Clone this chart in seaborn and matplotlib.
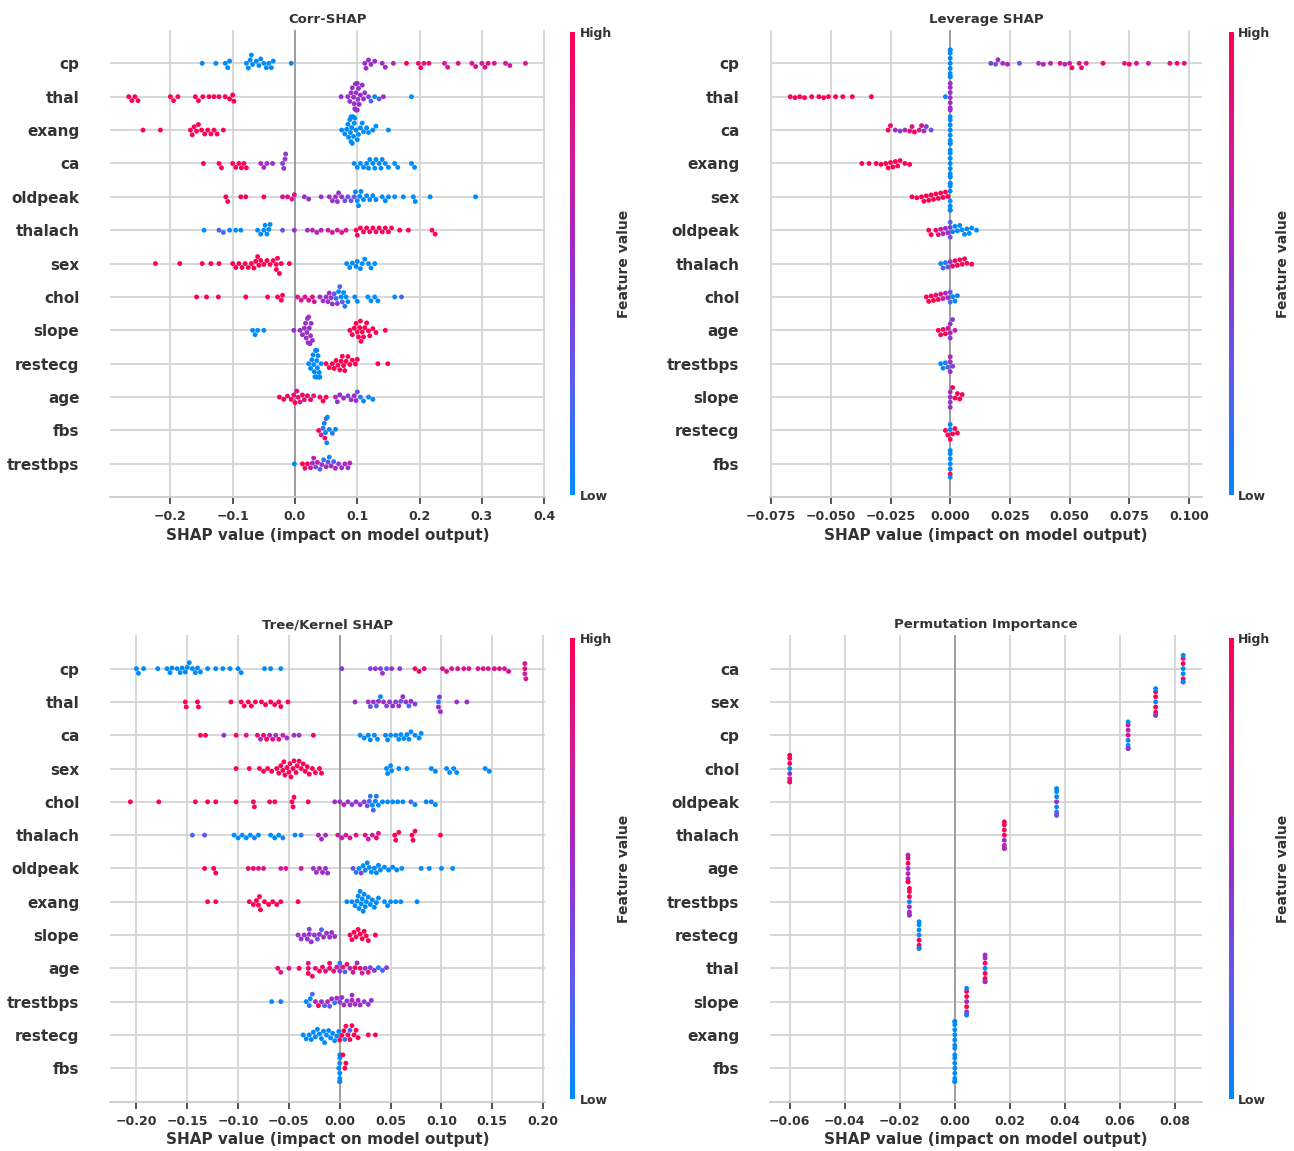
import warnings

import matplotlib
matplotlib.use("Agg")
import matplotlib.pyplot as plt
import seaborn as sns
import pandas as pd
from matplotlib.colors import LinearSegmentedColormap, Normalize
from matplotlib.cm import ScalarMappable

warnings.simplefilter("ignore")

# each row: (shap value, feature value scaled 0=low .. 1=high)

# ---------------- Corr-SHAP ----------------
corr_order = ["cp", "thal", "exang", "ca", "oldpeak", "thalach", "sex",
              "chol", "slope", "restecg", "age", "fbs", "trestbps"]
corr_cp = [(-0.149, 0), (-0.127, 0), (-0.112, 0), (-0.108, 0), (-0.105, 0), (-0.078, 0), (-0.075, 0),
           (-0.072, 0), (-0.07, 0), (-0.068, 0), (-0.062, 0), (-0.058, 0), (-0.055, 0), (-0.05, 0),
           (-0.046, 0), (-0.042, 0), (-0.038, 0), (-0.035, 0), (-0.006, 0),
           (0.112, 0.5), (0.114, 0.5), (0.118, 0.5), (0.122, 0.5), (0.128, 0.5), (0.14, 0.5),
           (0.145, 0.55), (0.158, 0.6), (0.179, 1), (0.198, 0.9), (0.202, 0.9), (0.207, 0.85),
           (0.215, 0.9), (0.24, 0.75), (0.245, 0.75), (0.262, 0.8), (0.284, 0.8), (0.29, 0.8),
           (0.3, 0.7), (0.305, 0.8), (0.31, 0.9), (0.32, 0.8), (0.338, 0.75), (0.345, 0.75), (0.37, 0.8)]
corr_thal = [(-0.267, 1), (-0.262, 1), (-0.257, 1), (-0.252, 1), (-0.2, 1), (-0.195, 1), (-0.188, 1),
             (-0.16, 1), (-0.155, 1), (-0.148, 1), (-0.138, 1), (-0.13, 1), (-0.122, 1), (-0.112, 1),
             (-0.105, 1), (-0.1, 1), (-0.098, 1),
             (0.074, 0.5), (0.085, 0.5), (0.088, 0.5), (0.09, 0.5), (0.092, 0.5), (0.094, 0.5),
             (0.095, 0.5), (0.096, 0.5), (0.097, 0.5), (0.098, 0.5), (0.098, 0.5), (0.099, 0.5),
             (0.1, 0.5), (0.1, 0.5), (0.101, 0.5), (0.102, 0.5), (0.103, 0.5), (0.105, 0.5),
             (0.108, 0.5), (0.11, 0.5), (0.112, 0.5), (0.118, 0.4), (0.122, 0.2), (0.128, 0),
             (0.135, 0.3), (0.142, 0.5), (0.187, 0)]
corr_exang = [(-0.244, 1), (-0.216, 1), (-0.168, 1), (-0.165, 1), (-0.162, 1), (-0.158, 1), (-0.155, 1),
              (-0.15, 1), (-0.145, 1), (-0.14, 1), (-0.135, 1), (-0.13, 1), (-0.125, 1), (-0.115, 1),
              (0.075, 0), (0.08, 0), (0.083, 0), (0.085, 0), (0.086, 0), (0.088, 0), (0.089, 0),
              (0.09, 0), (0.09, 0), (0.091, 0), (0.092, 0), (0.093, 0), (0.094, 0), (0.095, 0),
              (0.096, 0), (0.098, 0), (0.1, 0), (0.102, 0), (0.105, 0), (0.108, 0), (0.11, 0),
              (0.115, 0), (0.118, 0), (0.125, 0), (0.13, 0), (0.15, 0)]
corr_ca = [(-0.147, 1), (-0.122, 1), (-0.118, 1), (-0.1, 1), (-0.095, 1), (-0.09, 1), (-0.086, 1),
           (-0.082, 1), (-0.078, 1), (-0.055, 0.6), (-0.05, 0.55), (-0.045, 0.5), (-0.036, 0.5),
           (-0.02, 0.45), (-0.018, 0.45), (-0.016, 0.45), (-0.015, 0.45),
           (0.095, 0), (0.1, 0), (0.105, 0), (0.11, 0), (0.115, 0), (0.118, 0), (0.12, 0), (0.125, 0),
           (0.128, 0), (0.13, 0), (0.135, 0), (0.138, 0), (0.14, 0), (0.145, 0), (0.15, 0),
           (0.16, 0), (0.165, 0), (0.187, 0), (0.192, 0)]
corr_oldpeak = [(-0.111, 1), (-0.108, 1), (-0.087, 1), (-0.079, 1), (-0.05, 1), (-0.02, 0.8),
                (-0.012, 0.8), (-0.005, 0.8), (-0.001, 0.8), (0.015, 0.5), (0.022, 0.5), (0.042, 0.5),
                (0.055, 0.5), (0.06, 0.5), (0.065, 0.5), (0.068, 0.5), (0.07, 0.5), (0.075, 0.5),
                (0.08, 0.3), (0.085, 0.3), (0.09, 0.3), (0.095, 0.3), (0.097, 0), (0.1, 0), (0.102, 0),
                (0.104, 0), (0.106, 0), (0.11, 0), (0.115, 0), (0.12, 0), (0.125, 0), (0.13, 0),
                (0.14, 0), (0.145, 0), (0.15, 0), (0.16, 0), (0.174, 0), (0.19, 0), (0.193, 0),
                (0.217, 0), (0.29, 0)]
corr_thalach = [(-0.146, 0), (-0.122, 0.2), (-0.115, 0.2), (-0.105, 0), (-0.095, 0), (-0.087, 0),
                (-0.06, 0), (-0.055, 0), (-0.05, 0), (-0.048, 0), (-0.045, 0), (-0.042, 0), (-0.04, 0),
                (-0.02, 0.3), (-0.001, 0.5), (0.02, 0.55), (0.028, 0.6), (0.035, 0.6), (0.042, 0.6),
                (0.053, 0.75), (0.06, 0.75), (0.068, 0.75), (0.075, 0.75), (0.082, 0.75),
                (0.098, 1), (0.1, 0.9), (0.105, 1), (0.11, 0.9), (0.115, 1), (0.12, 0.9), (0.125, 1),
                (0.13, 0.9), (0.135, 1), (0.14, 0.9), (0.145, 1), (0.15, 1), (0.155, 0.9),
                (0.168, 1), (0.182, 1), (0.22, 1), (0.225, 1)]
corr_sex = [(-0.224, 1), (-0.185, 1), (-0.149, 1), (-0.135, 1), (-0.122, 1), (-0.1, 1), (-0.095, 1),
            (-0.09, 1), (-0.085, 1), (-0.08, 1), (-0.075, 1), (-0.07, 1), (-0.066, 1), (-0.063, 1),
            (-0.06, 1), (-0.058, 1), (-0.055, 1), (-0.05, 1), (-0.045, 1), (-0.04, 1), (-0.035, 1),
            (-0.03, 1), (-0.03, 1), (-0.028, 1), (-0.025, 1), (-0.022, 1), (-0.009, 1),
            (0.083, 0), (0.088, 0), (0.092, 0), (0.098, 0), (0.1, 0), (0.105, 0), (0.108, 0),
            (0.112, 0), (0.118, 0), (0.122, 0), (0.128, 0)]
corr_chol = [(-0.158, 1), (-0.142, 1), (-0.123, 1), (-0.079, 1), (-0.044, 1), (-0.028, 1), (-0.022, 1),
             (-0.02, 1), (0.004, 0.8), (0.01, 0.8), (0.016, 0.8), (0.022, 0.8), (0.028, 0.8),
             (0.031, 0.8), (0.04, 0.5), (0.045, 0.5), (0.05, 0.5), (0.053, 0.5), (0.055, 0.5),
             (0.058, 0.5), (0.06, 0.5), (0.063, 0.3), (0.066, 0.1), (0.068, 0.5), (0.07, 0),
             (0.072, 0.2), (0.074, 0), (0.076, 0.3), (0.078, 0), (0.08, 0.1), (0.082, 0), (0.085, 0),
             (0.096, 0), (0.1, 0), (0.117, 0), (0.122, 0), (0.128, 0), (0.133, 0), (0.16, 0),
             (0.171, 0.2)]
corr_slope = [(-0.068, 0), (-0.064, 0), (-0.06, 0), (-0.05, 0), (-0.002, 0.5), (0.008, 0.5), (0.012, 0.5),
              (0.015, 0.5), (0.017, 0.5), (0.018, 0.5), (0.019, 0.5), (0.02, 0.5), (0.021, 0.5),
              (0.022, 0.5), (0.023, 0.5), (0.024, 0.5), (0.025, 0.5), (0.026, 0.5), (0.028, 0.5),
              (0.088, 1), (0.092, 1), (0.095, 1), (0.098, 1), (0.1, 1), (0.102, 1), (0.104, 1),
              (0.105, 1), (0.106, 1), (0.108, 1), (0.11, 1), (0.112, 1), (0.115, 1), (0.118, 1),
              (0.12, 1), (0.125, 1), (0.13, 1), (0.145, 1)]
corr_restecg = [(0.022, 0), (0.025, 0), (0.027, 0), (0.029, 0), (0.03, 0), (0.031, 0), (0.032, 0),
                (0.033, 0), (0.034, 0), (0.035, 0), (0.035, 0), (0.036, 0), (0.037, 0), (0.038, 0),
                (0.039, 0), (0.04, 0), (0.042, 0), (0.05, 1), (0.055, 1), (0.06, 1), (0.063, 1),
                (0.066, 1), (0.069, 1), (0.072, 1), (0.074, 1), (0.076, 1), (0.078, 1), (0.08, 1),
                (0.082, 1), (0.085, 1), (0.088, 1), (0.092, 1), (0.097, 1), (0.1, 1), (0.133, 1),
                (0.149, 1)]
corr_age = [(-0.025, 1), (-0.018, 1), (-0.012, 0.9), (-0.006, 1), (-0.002, 0.9), (0.0, 1), (0.003, 0.8),
            (0.005, 0.9), (0.008, 0.8), (0.012, 1), (0.015, 0.8), (0.02, 0.9), (0.025, 1), (0.03, 0.8),
            (0.04, 0.9), (0.045, 1), (0.05, 1), (0.065, 0.6), (0.068, 0.5), (0.072, 0.5),
            (0.078, 0.55), (0.085, 0.4), (0.09, 0.5), (0.095, 0.55), (0.098, 0.5), (0.1, 0.3),
            (0.105, 0.1), (0.11, 0), (0.118, 0), (0.125, 0)]
corr_fbs = [(0.038, 1), (0.042, 0.7), (0.045, 0.2), (0.047, 0), (0.048, 1), (0.049, 0), (0.05, 0.3),
            (0.051, 0), (0.052, 0), (0.055, 0), (0.06, 0.1), (0.065, 0)]
corr_trestbps = [(-0.001, 0), (0.012, 1), (0.016, 0.9), (0.02, 1), (0.025, 0.8), (0.028, 0.5),
                 (0.03, 0.6), (0.033, 0.3), (0.036, 0.7), (0.04, 0.2), (0.043, 0.5), (0.046, 0.1),
                 (0.05, 0.6), (0.053, 0.3), (0.055, 0), (0.058, 0.5), (0.062, 0.2), (0.065, 0.6),
                 (0.07, 0.4), (0.075, 0.5), (0.08, 0.6), (0.085, 0.5), (0.088, 0.6)]

# ---------------- Leverage SHAP ----------------
lev_order = ["cp", "thal", "ca", "exang", "sex", "oldpeak", "thalach",
             "chol", "age", "trestbps", "slope", "restecg", "fbs"]
lev_cp = [(0.0, 0), (0.0, 0), (0.0, 0), (0.0, 0), (0.0, 0), (0.0, 0), (0.0, 0), (0.0, 0), (0.0, 0),
          (0.017, 0.4), (0.019, 0.3), (0.02, 0.6), (0.022, 0.5), (0.024, 0.6), (0.029, 0.3),
          (0.037, 0.5), (0.039, 0.6), (0.042, 0.7), (0.046, 0.8), (0.048, 0.6), (0.05, 0.7),
          (0.051, 0.9), (0.054, 0.8), (0.055, 0.9), (0.057, 0.8), (0.064, 1), (0.073, 0.8),
          (0.075, 0.9), (0.078, 0.8), (0.083, 0.7), (0.092, 0.8), (0.095, 0.9), (0.098, 0.8)]
lev_thal = [(-0.067, 1), (-0.065, 1), (-0.063, 1), (-0.061, 1), (-0.058, 1), (-0.055, 1), (-0.053, 1),
            (-0.051, 1), (-0.048, 1), (-0.045, 1), (-0.041, 1), (-0.033, 1), (-0.002, 0),
            (0.0, 0.5), (0.0, 0.5), (0.0, 0.5), (0.0, 0.5), (0.0, 0.5), (0.0, 0.5), (0.0, 0.5)]
lev_ca = [(-0.026, 1), (-0.025, 0.9), (-0.023, 0.5), (-0.021, 0.4), (-0.019, 0.6), (-0.017, 0.9),
          (-0.016, 0.8), (-0.015, 1), (-0.013, 0.7), (-0.012, 0.8), (-0.011, 0.5), (-0.01, 0.4),
          (-0.008, 0.3), (0.0, 0), (0.0, 0), (0.0, 0), (0.0, 0), (0.0, 0), (0.0, 0), (0.0, 0), (0.0, 0)]
lev_exang = [(-0.037, 1), (-0.034, 1), (-0.031, 1), (-0.029, 1), (-0.027, 1), (-0.026, 1), (-0.025, 1),
             (-0.024, 1), (-0.023, 1), (-0.022, 1), (-0.021, 1), (-0.019, 1), (-0.017, 1),
             (0.0, 0), (0.0, 0), (0.0, 0), (0.0, 0), (0.0, 0), (0.0, 0), (0.0, 0), (0.0, 0)]
lev_sex = [(-0.016, 1), (-0.014, 1), (-0.012, 1), (-0.011, 1), (-0.01, 1), (-0.009, 1), (-0.008, 1),
           (-0.007, 1), (-0.006, 1), (-0.005, 1), (-0.004, 1), (-0.003, 1), (-0.002, 1), (-0.001, 1),
           (0.0, 0), (0.0, 0), (0.0, 0), (0.0, 0), (0.0, 0), (0.0, 0), (0.0, 0), (0.0, 0)]
lev_oldpeak = [(-0.009, 1), (-0.008, 1), (-0.006, 0.9), (-0.005, 0.8), (-0.004, 0.7), (-0.003, 0.6),
               (-0.002, 0.5), (-0.001, 0.5), (0.0, 0.4), (0.0, 0.3), (0.0, 0.2), (0.001, 0.1),
               (0.002, 0), (0.003, 0), (0.004, 0), (0.005, 0), (0.006, 0), (0.007, 0), (0.008, 0),
               (0.009, 0), (0.011, 0)]
lev_thalach = [(-0.004, 0), (-0.003, 0.2), (-0.002, 0.1), (-0.001, 0.3), (0.0, 0.5), (0.001, 0.9),
               (0.002, 1), (0.003, 1), (0.004, 0.9), (0.005, 1), (0.006, 1), (0.007, 0.9), (0.009, 1)]
lev_chol = [(-0.01, 1), (-0.009, 1), (-0.008, 1), (-0.007, 1), (-0.006, 0.9), (-0.005, 1), (-0.004, 0.8),
            (-0.003, 0.7), (-0.002, 0.6), (-0.001, 0.5), (0.0, 0.3), (0.0, 0.2), (0.001, 0),
            (0.002, 0), (0.003, 0)]
lev_age = [(-0.005, 1), (-0.004, 1), (-0.003, 0.9), (-0.002, 1), (-0.001, 0.8), (0.0, 0.6), (0.0, 0.5),
           (0.0, 0.5), (0.001, 0.4), (0.002, 0.7)]
lev_trestbps = [(-0.004, 0), (-0.003, 0), (-0.002, 0.1), (-0.001, 0.2), (0.0, 0.5), (0.0, 0.6),
                (0.0, 0.5), (0.001, 0.4)]
lev_slope = [(0.0, 0.5), (0.0, 0.5), (0.0, 0.5), (0.0, 0.5), (0.001, 1), (0.002, 1), (0.003, 1),
             (0.004, 1), (0.005, 1)]
lev_restecg = [(-0.002, 1), (-0.001, 1), (0.0, 0), (0.0, 0), (0.0, 1), (0.001, 1), (0.002, 1), (0.003, 1)]
lev_fbs = [(0.0, 0), (0.0, 0), (0.0, 0), (0.0, 1), (0.0, 0), (0.0, 0), (0.0, 0)]

# ---------------- Tree/Kernel SHAP ----------------
tree_order = ["cp", "thal", "ca", "sex", "chol", "thalach", "oldpeak",
              "exang", "slope", "age", "trestbps", "restecg", "fbs"]
tree_cp = [(-0.2, 0), (-0.198, 0), (-0.193, 0), (-0.179, 0), (-0.17, 0), (-0.167, 0), (-0.165, 0),
           (-0.16, 0), (-0.157, 0), (-0.155, 0), (-0.152, 0), (-0.15, 0), (-0.148, 0), (-0.145, 0),
           (-0.142, 0), (-0.14, 0), (-0.137, 0), (-0.13, 0), (-0.122, 0), (-0.115, 0), (-0.108, 0),
           (-0.1, 0), (-0.097, 0), (-0.074, 0), (-0.068, 0), (-0.058, 0),
           (0.002, 0.4), (0.03, 0.4), (0.035, 0.5), (0.04, 0.4), (0.042, 0.5), (0.046, 0.3),
           (0.051, 0.5), (0.059, 0.4), (0.074, 0.9), (0.078, 0.9), (0.083, 0.85), (0.101, 0.8),
           (0.105, 0.8), (0.11, 0.75), (0.116, 0.8), (0.122, 0.8), (0.127, 0.75), (0.136, 0.8),
           (0.141, 0.8), (0.146, 0.75), (0.152, 0.8), (0.157, 0.8), (0.162, 0.75), (0.166, 0.8),
           (0.182, 0.8), (0.182, 0.7), (0.182, 0.8), (0.183, 0.8)]
tree_thal = [(-0.152, 1), (-0.151, 1), (-0.14, 1), (-0.139, 1), (-0.107, 1), (-0.097, 1), (-0.094, 1),
             (-0.09, 1), (-0.087, 1), (-0.083, 1), (-0.077, 1), (-0.073, 1), (-0.068, 1), (-0.064, 1),
             (-0.06, 1), (-0.058, 1), (-0.051, 1),
             (0.015, 0.5), (0.028, 0.5), (0.03, 0.3), (0.033, 0.5), (0.036, 0.2), (0.038, 0.5),
             (0.04, 0), (0.043, 0.5), (0.046, 0.4), (0.049, 0.5), (0.052, 0.5), (0.055, 0.4),
             (0.058, 0.5), (0.06, 0.3), (0.062, 0.5), (0.065, 0.5), (0.068, 0.2), (0.07, 0.5),
             (0.074, 0.4), (0.097, 0.1), (0.097, 0.5), (0.098, 0.4), (0.099, 0.5), (0.115, 0.5),
             (0.125, 0.5)]
tree_ca = [(-0.137, 1), (-0.132, 1), (-0.114, 0.5), (-0.102, 1), (-0.092, 0.8), (-0.081, 0.9),
           (-0.078, 0.5), (-0.075, 0.9), (-0.072, 1), (-0.069, 0.6), (-0.066, 0.8), (-0.063, 0.5),
           (-0.06, 0.9), (-0.056, 0.7), (-0.052, 0.5), (-0.045, 0.5), (-0.04, 0.5), (-0.026, 1),
           (0.02, 0), (0.024, 0), (0.028, 0), (0.03, 0), (0.034, 0), (0.037, 0), (0.045, 0),
           (0.047, 0), (0.05, 0), (0.055, 0), (0.058, 0), (0.06, 0), (0.063, 0), (0.066, 0),
           (0.068, 0), (0.07, 0), (0.074, 0), (0.078, 0), (0.08, 0)]
tree_sex = [(-0.102, 1), (-0.089, 1), (-0.079, 1), (-0.075, 1), (-0.071, 1), (-0.067, 1), (-0.062, 1),
            (-0.06, 1), (-0.058, 1), (-0.056, 1), (-0.055, 1), (-0.054, 1), (-0.052, 1), (-0.05, 1),
            (-0.049, 1), (-0.048, 1), (-0.046, 1), (-0.045, 1), (-0.043, 1), (-0.042, 1), (-0.04, 1),
            (-0.038, 1), (-0.036, 1), (-0.034, 1), (-0.032, 1), (-0.03, 1), (-0.027, 1), (-0.024, 1),
            (-0.02, 1), (-0.018, 1),
            (0.046, 0), (0.047, 0), (0.05, 0), (0.051, 0), (0.058, 0), (0.066, 0), (0.09, 0),
            (0.094, 0), (0.105, 0), (0.108, 0), (0.112, 0), (0.115, 0), (0.143, 0), (0.147, 0)]
tree_chol = [(-0.206, 1), (-0.178, 1), (-0.142, 1), (-0.13, 1), (-0.122, 1), (-0.102, 1), (-0.085, 1),
             (-0.084, 1), (-0.069, 1), (-0.064, 1), (-0.047, 1), (-0.046, 1), (-0.045, 1), (-0.031, 1),
             (-0.005, 0.5), (0.0, 0.5), (0.004, 0.6), (0.008, 0.5), (0.012, 0.4), (0.016, 0.5),
             (0.02, 0.5), (0.024, 0.4), (0.027, 0.3), (0.029, 0.2), (0.03, 0.1), (0.032, 0),
             (0.033, 0.2), (0.035, 0), (0.036, 0.1), (0.038, 0), (0.042, 0), (0.047, 0), (0.052, 0),
             (0.057, 0), (0.062, 0), (0.07, 0.2), (0.074, 0), (0.085, 0), (0.09, 0.1), (0.094, 0)]
tree_thalach = [(-0.145, 0.2), (-0.133, 0.3), (-0.104, 0), (-0.1, 0), (-0.096, 0), (-0.092, 0),
                (-0.088, 0), (-0.084, 0.1), (-0.08, 0), (-0.068, 0), (-0.064, 0), (-0.06, 0),
                (-0.056, 0.1), (-0.044, 0), (-0.038, 0.1), (-0.021, 0.6), (-0.018, 0.5),
                (-0.014, 0.6), (-0.002, 0.7), (0.002, 0.6), (0.006, 0.7), (0.01, 0.8), (0.016, 0.8),
                (0.025, 0.8), (0.028, 0.6), (0.032, 0.7), (0.036, 0.9), (0.038, 0.8), (0.054, 1),
                (0.055, 1), (0.058, 0.9), (0.071, 1), (0.072, 1), (0.074, 1), (0.099, 1)]
tree_oldpeak = [(-0.133, 1), (-0.124, 1), (-0.122, 1), (-0.09, 0.9), (-0.085, 0.9), (-0.08, 0.8),
                (-0.075, 0.8), (-0.058, 0.7), (-0.053, 0.8), (-0.038, 0.7), (-0.026, 0.5),
                (-0.023, 0.5), (-0.02, 0.6), (-0.017, 0.5), (-0.014, 0.5), (-0.012, 0.5), (0.013, 0.3),
                (0.016, 0.1), (0.019, 0), (0.021, 0.4), (0.023, 0), (0.025, 0), (0.027, 0), (0.029, 0),
                (0.031, 0), (0.034, 0), (0.036, 0), (0.038, 0), (0.04, 0), (0.044, 0), (0.048, 0),
                (0.052, 0), (0.056, 0), (0.061, 0), (0.08, 0), (0.088, 0), (0.1, 0), (0.111, 0)]
tree_exang = [(-0.13, 1), (-0.122, 1), (-0.089, 1), (-0.085, 1), (-0.082, 1), (-0.08, 1), (-0.079, 1),
              (-0.078, 1), (-0.074, 1), (-0.07, 1), (-0.066, 1), (-0.062, 1), (-0.058, 1), (-0.041, 1),
              (0.007, 0), (0.012, 0), (0.015, 0), (0.017, 0), (0.018, 0), (0.019, 0), (0.02, 0),
              (0.021, 0), (0.022, 0), (0.023, 0), (0.024, 0), (0.025, 0), (0.026, 0), (0.028, 0),
              (0.03, 0), (0.032, 0), (0.034, 0), (0.036, 0), (0.038, 0), (0.044, 0), (0.047, 0),
              (0.05, 0), (0.055, 0), (0.06, 0), (0.076, 0)]
tree_slope = [(-0.041, 0.5), (-0.038, 0.5), (-0.035, 0.5), (-0.032, 0.5), (-0.03, 0.5), (-0.03, 0.4),
              (-0.028, 0.5), (-0.025, 0.5), (-0.022, 0.3), (-0.02, 0.5), (-0.018, 0.2), (-0.016, 0.5),
              (-0.013, 0.5), (-0.01, 0.5), (-0.008, 0.5), (-0.005, 0.5), (0.01, 1), (0.012, 1),
              (0.014, 1), (0.016, 1), (0.018, 1), (0.02, 1), (0.022, 1), (0.024, 1), (0.026, 1),
              (0.028, 1), (0.035, 1)]
tree_age = [(-0.061, 0.9), (-0.058, 0.8), (-0.05, 0.8), (-0.04, 1), (-0.031, 0.9), (-0.031, 1),
            (-0.031, 0.8), (-0.027, 0.9), (-0.024, 0.8), (-0.02, 1), (-0.017, 0.9), (-0.014, 0.8),
            (-0.01, 1), (-0.01, 0.9), (-0.006, 0.8), (-0.003, 0.7), (0.0, 0.5), (0.0, 0.1),
            (0.003, 0.8), (0.005, 0.2), (0.007, 0.9), (0.01, 0.6), (0.013, 0.8), (0.015, 1),
            (0.017, 0.5), (0.02, 0.9), (0.022, 0.7), (0.025, 0.5), (0.028, 0.8), (0.03, 0.4),
            (0.034, 0.5), (0.038, 0.1), (0.042, 0.2), (0.046, 0.4)]
tree_trestbps = [(-0.067, 0), (-0.058, 0.1), (-0.033, 0), (-0.03, 0.1), (-0.029, 0), (-0.027, 0.2),
                 (-0.024, 0.6), (-0.021, 1), (-0.018, 0.5), (-0.015, 0.2), (-0.012, 0.6), (-0.01, 0.3),
                 (-0.008, 0.5), (-0.005, 0.1), (-0.003, 0.6), (0.0, 0.4), (0.002, 0.5), (0.004, 0.6),
                 (0.007, 0.4), (0.01, 0.5), (0.012, 0.6), (0.012, 0.5), (0.015, 0.5), (0.018, 0.6),
                 (0.02, 0.5), (0.024, 0.4), (0.028, 0.5), (0.031, 0.5)]
tree_restecg = [(-0.036, 0), (-0.033, 0), (-0.03, 0), (-0.028, 0), (-0.026, 0), (-0.024, 0), (-0.022, 0),
                (-0.02, 0), (-0.018, 0), (-0.016, 0), (-0.015, 0), (-0.013, 0), (-0.011, 0), (-0.009, 0),
                (-0.007, 0), (-0.005, 0), (-0.003, 0), (-0.001, 0), (0.0, 1), (0.002, 1), (0.004, 1),
                (0.005, 0.1), (0.006, 1), (0.008, 1), (0.01, 0.2), (0.01, 1), (0.012, 1), (0.014, 1),
                (0.016, 1), (0.018, 1), (0.028, 1), (0.035, 1)]
tree_fbs = [(0.0, 0), (0.0, 0), (0.0, 0), (0.0, 0), (0.0, 0), (0.0, 0), (0.0, 0), (-0.001, 0),
            (0.003, 1), (0.005, 1), (0.006, 1)]

# ---------------- Permutation Importance ----------------
perm_order = ["ca", "sex", "cp", "chol", "oldpeak", "thalach", "age",
              "trestbps", "restecg", "thal", "slope", "exang", "fbs"]
perm_ca = [(0.083, 0), (0.083, 0), (0.083, 1), (0.083, 1), (0.083, 0.8), (0.083, 1), (0.083, 0), (0.083, 0)]
perm_sex = [(0.073, 0), (0.073, 1), (0.073, 1), (0.073, 1), (0.073, 1), (0.073, 0.5), (0.073, 0), (0.073, 0.4)]
perm_cp = [(0.063, 0.8), (0.063, 0), (0.063, 0.6), (0.063, 0), (0.063, 0.8), (0.063, 0.3), (0.063, 0), (0.063, 0.5)]
perm_chol = [(-0.06, 0), (-0.06, 0.5), (-0.06, 1), (-0.06, 0.8), (-0.06, 1), (-0.06, 0.5), (-0.06, 1), (-0.06, 0.9)]
perm_oldpeak = [(0.037, 0.5), (0.037, 0), (0.037, 0), (0.037, 0.2), (0.037, 0), (0.037, 0.5), (0.037, 0), (0.037, 0.3)]
perm_thalach = [(0.018, 1), (0.018, 0.5), (0.018, 1), (0.018, 0.6), (0.018, 0.9), (0.018, 0.5), (0.018, 1), (0.018, 0.6)]
perm_age = [(-0.017, 0.5), (-0.017, 0.6), (-0.017, 1), (-0.017, 0.5), (-0.017, 0.9), (-0.017, 1), (-0.017, 0.6), (-0.017, 1)]
perm_trestbps = [(-0.0165, 0), (-0.0165, 0.5), (-0.0165, 1), (-0.0165, 0.5), (-0.0165, 0.9), (-0.0165, 0.6),
                 (-0.0165, 1), (-0.0165, 0.5)]
perm_restecg = [(-0.013, 0), (-0.013, 1), (-0.013, 0), (-0.013, 1), (-0.013, 0), (-0.013, 1), (-0.013, 0), (-0.013, 0)]
perm_thal = [(0.011, 0), (0.011, 1), (0.011, 1), (0.011, 1), (0.011, 0.5), (0.011, 1), (0.011, 0.5), (0.011, 0.5)]
perm_slope = [(0.0043, 0.5), (0.0043, 1), (0.0043, 1), (0.0043, 0.5), (0.0043, 1), (0.0043, 0.6), (0.0043, 0), (0.0043, 0)]
perm_exang = [(0.0, 0), (0.0, 0), (0.0, 0), (0.0, 0), (0.0, 0), (0.0, 0), (0.0, 0), (0.0, 0)]
perm_fbs = [(0.0, 0), (0.0, 0), (0.0, 0), (0.0, 0), (0.0, 0), (0.0, 0), (0.0, 0), (0.0, 0)]


# shap-like red/blue map
red_blue = LinearSegmentedColormap.from_list(
    "red_blue", ["#008bfb", "#5b5cf0", "#9a2fc9", "#d4189a", "#ff0052"])
TXT = "#333333"


def to_frame(order, rows):
    recs = [(feat, s, v) for feat in order for s, v in rows[feat]]
    return pd.DataFrame(recs, columns=["feature", "shap", "value"])


def beeswarm(fig, ax_rect, cb_rect, df, order, title, xlim, xticks):
    ax = fig.add_axes(ax_rect)
    sns.swarmplot(data=df, x="shap", y="feature", hue="value", order=order,
                  palette=red_blue, hue_norm=(0, 1), orient="h", size=3.5,
                  linewidth=0, legend=False, ax=ax, zorder=3)

    ax.axvline(0, color="#999999", lw=1.3, zorder=1)
    ax.set_xlim(*xlim)
    ax.set_ylim(len(order), -1)
    ax.set_xticks(xticks)

    ax.grid(True, color="#d4d4d4", lw=1.3, zorder=0)
    ax.set_axisbelow(True)
    for side in ["top", "right", "left"]:
        ax.spines[side].set_visible(False)
    ax.spines["bottom"].set_color("#cccccc")
    ax.spines["bottom"].set_linewidth(1.3)

    ax.tick_params(axis="y", length=0, pad=22, labelsize=11, labelcolor=TXT)
    ax.tick_params(axis="x", bottom=True, length=5, width=1.3, color="#444444",
                   labelsize=9, labelcolor=TXT, pad=4.5)
    for lab in ax.get_yticklabels() + ax.get_xticklabels():
        lab.set_fontweight("bold")
    ax.set_ylabel("")
    ax.set_xlabel("SHAP value (impact on model output)", fontsize=11, fontweight="bold",
                  color=TXT, labelpad=3)
    ax.set_title(title, fontsize=9.5, fontweight="bold", color=TXT, pad=5)

    # colour bar
    cax = fig.add_axes(cb_rect)
    cb = fig.colorbar(ScalarMappable(norm=Normalize(0, 1), cmap=red_blue), cax=cax, ticks=[0, 1])
    cb.set_ticklabels(["Low", "High"])
    cb.outline.set_visible(False)
    cax.tick_params(length=0, labelsize=9, labelcolor=TXT, pad=3)
    for lab in cax.get_yticklabels():
        lab.set_fontweight("bold")
    cb.set_label("Feature value", fontsize=10, fontweight="bold", color=TXT, labelpad=4)
    return ax


sns.set_theme(style="whitegrid")
plt.rcParams["font.family"] = ["DejaVu Sans"]

fig = plt.figure(figsize=(12.94, 11.51), dpi=100)

corr_rows = {"cp": corr_cp, "thal": corr_thal, "exang": corr_exang, "ca": corr_ca,
             "oldpeak": corr_oldpeak, "thalach": corr_thalach, "sex": corr_sex, "chol": corr_chol,
             "slope": corr_slope, "restecg": corr_restecg, "age": corr_age, "fbs": corr_fbs,
             "trestbps": corr_trestbps}
lev_rows = {"cp": lev_cp, "thal": lev_thal, "ca": lev_ca, "exang": lev_exang, "sex": lev_sex,
            "oldpeak": lev_oldpeak, "thalach": lev_thalach, "chol": lev_chol, "age": lev_age,
            "trestbps": lev_trestbps, "slope": lev_slope, "restecg": lev_restecg, "fbs": lev_fbs}
tree_rows = {"cp": tree_cp, "thal": tree_thal, "ca": tree_ca, "sex": tree_sex, "chol": tree_chol,
             "thalach": tree_thalach, "oldpeak": tree_oldpeak, "exang": tree_exang,
             "slope": tree_slope, "age": tree_age, "trestbps": tree_trestbps,
             "restecg": tree_restecg, "fbs": tree_fbs}
perm_rows = {"ca": perm_ca, "sex": perm_sex, "cp": perm_cp, "chol": perm_chol,
             "oldpeak": perm_oldpeak, "thalach": perm_thalach, "age": perm_age,
             "trestbps": perm_trestbps, "restecg": perm_restecg, "thal": perm_thal,
             "slope": perm_slope, "exang": perm_exang, "fbs": perm_fbs}

top, bot_top = (0.568, 0.406), (0.043, 0.405)

beeswarm(fig, [0.085, top[0], 0.336, top[1]], [0.4405, 0.570, 0.0042, 0.402],
         to_frame(corr_order, corr_rows), corr_order, "Corr-SHAP",
         (-0.297, 0.401), [-0.2, -0.1, 0.0, 0.1, 0.2, 0.3, 0.4])
beeswarm(fig, [0.595, top[0], 0.334, top[1]], [0.9495, 0.570, 0.0042, 0.402],
         to_frame(lev_order, lev_rows), lev_order, "Leverage SHAP",
         (-0.0755, 0.1055), [-0.075, -0.05, -0.025, 0.0, 0.025, 0.05, 0.075, 0.1])
beeswarm(fig, [0.085, bot_top[0], 0.336, bot_top[1]], [0.4405, 0.045, 0.0042, 0.401],
         to_frame(tree_order, tree_rows), tree_order, "Tree/Kernel SHAP",
         (-0.226, 0.2016), [-0.2, -0.15, -0.1, -0.05, 0.0, 0.05, 0.1, 0.15, 0.2])
beeswarm(fig, [0.595, bot_top[0], 0.334, bot_top[1]], [0.9495, 0.045, 0.0042, 0.401],
         to_frame(perm_order, perm_rows), perm_order, "Permutation Importance",
         (-0.0672, 0.0899), [-0.06, -0.04, -0.02, 0.0, 0.02, 0.04, 0.06, 0.08])

fig.savefig("out.png", dpi=100, facecolor="white")
